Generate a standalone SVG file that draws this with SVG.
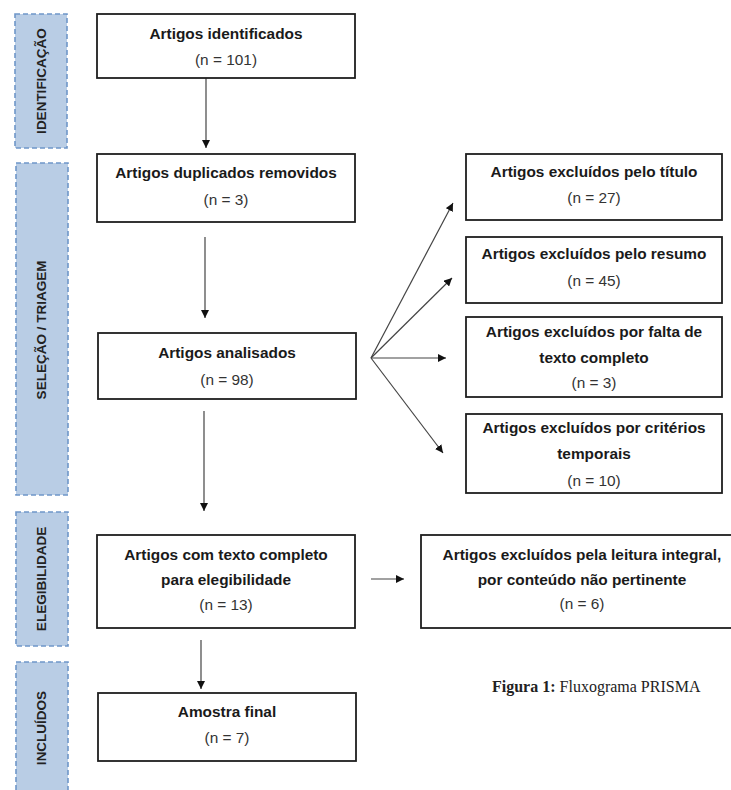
<svg xmlns="http://www.w3.org/2000/svg" width="731" height="790" viewBox="0 0 731 790">
<style>
.bar{fill:#b9cde5;stroke:#6f97c9;stroke-width:1.6;stroke-dasharray:5,3}
.bl{font-family:"Liberation Sans",Arial,sans-serif;font-weight:bold;font-size:13.5px;fill:#222;text-anchor:middle}
.box{fill:#fff;stroke:#1e1e1e;stroke-width:1.8}
.t{font-family:"Liberation Sans",Arial,sans-serif;font-weight:bold;font-size:15.4px;fill:#1a1a1a;text-anchor:middle}
.n{font-family:"Liberation Sans",Arial,sans-serif;font-size:15.4px;fill:#333;text-anchor:middle}
.ln{stroke:#444;stroke-width:1.2;fill:none;marker-end:url(#ah)}
.cap{font-family:"Liberation Serif","Times New Roman",serif;font-size:16px;fill:#222}
</style>
<defs>
<marker id="ah" viewBox="0 0 10 10" refX="10" refY="5" markerWidth="8" markerHeight="8" markerUnits="userSpaceOnUse" orient="auto">
<path d="M0,0 L10,5 L0,10 z" fill="#111"/>
</marker>
</defs>
<rect width="731" height="790" fill="#fff"/>

<g id="phase-identificacao">
<rect class="bar" x="15" y="14" width="52" height="134"/>
<text class="bl" transform="translate(46,81) rotate(-90)">IDENTIFICAÇÃO</text>
</g>
<g id="phase-selecao">
<rect class="bar" x="16" y="163" width="52" height="332"/>
<text class="bl" transform="translate(46,330) rotate(-90)">SELEÇÃO / TRIAGEM</text>
</g>
<g id="phase-elegibilidade">
<rect class="bar" x="16" y="512" width="52" height="134"/>
<text class="bl" transform="translate(46,579) rotate(-90)">ELEGIBILIDADE</text>
</g>
<g id="phase-incluidos">
<rect class="bar" x="16" y="662" width="52" height="140"/>
<text class="bl" transform="translate(46,728) rotate(-90)">INCLUÍDOS</text>
</g>

<g id="connectors">
<line class="ln" x1="206" y1="78" x2="206" y2="148"/>
<line class="ln" x1="205" y1="237" x2="205" y2="318"/>
<line class="ln" x1="204" y1="411" x2="204" y2="511"/>
<line class="ln" x1="201" y1="640" x2="201" y2="689"/>
<line class="ln" x1="371" y1="579" x2="404" y2="579"/>
<line class="ln" x1="371" y1="358" x2="453" y2="203"/>
<line class="ln" x1="371" y1="358" x2="452" y2="278"/>
<line class="ln" x1="371" y1="358" x2="446" y2="358"/>
<line class="ln" x1="371" y1="358" x2="443" y2="453"/>
</g>

<g id="identificados">
<rect class="box" x="97" y="14" width="258" height="64"/>
<text class="t" x="226" y="39">Artigos identificados</text>
<text class="n" x="226" y="65">(n = 101)</text>
</g>
<g id="duplicados">
<rect class="box" x="97" y="154" width="258" height="68"/>
<text class="t" x="226" y="178">Artigos duplicados removidos</text>
<text class="n" x="226" y="205">(n = 3)</text>
</g>
<g id="analisados">
<rect class="box" x="98" y="333" width="258" height="66"/>
<text class="t" x="227" y="358">Artigos analisados</text>
<text class="n" x="227" y="385">(n = 98)</text>
</g>
<g id="texto-completo">
<rect class="box" x="97" y="535" width="258" height="93"/>
<text class="t" x="226" y="560">Artigos com texto completo</text>
<text class="t" x="226" y="585">para elegibilidade</text>
<text class="n" x="226" y="610">(n = 13)</text>
</g>
<g id="amostra-final">
<rect class="box" x="98" y="693" width="258" height="68"/>
<text class="t" x="227" y="717">Amostra final</text>
<text class="n" x="227" y="743">(n = 7)</text>
</g>
<g id="excl-titulo">
<rect class="box" x="466" y="154" width="256" height="66"/>
<text class="t" x="594" y="177">Artigos excluídos pelo título</text>
<text class="n" x="594" y="203">(n = 27)</text>
</g>
<g id="excl-resumo">
<rect class="box" x="466" y="237" width="256" height="66"/>
<text class="t" x="594" y="259">Artigos excluídos pelo resumo</text>
<text class="n" x="594" y="286">(n = 45)</text>
</g>
<g id="excl-falta">
<rect class="box" x="466" y="317" width="256" height="80"/>
<text class="t" x="594" y="337">Artigos excluídos por falta de</text>
<text class="t" x="594" y="363">texto completo</text>
<text class="n" x="594" y="388">(n = 3)</text>
</g>
<g id="excl-temporais">
<rect class="box" x="466" y="414" width="256" height="79"/>
<text class="t" x="594" y="433">Artigos excluídos por critérios</text>
<text class="t" x="594" y="459">temporais</text>
<text class="n" x="594" y="486">(n = 10)</text>
</g>
<g id="excl-leitura">
<rect class="box" x="421" y="535" width="320" height="93"/>
<text class="t" x="582" y="560">Artigos excluídos pela leitura integral,</text>
<text class="t" x="582" y="585">por conteúdo não pertinente</text>
<text class="n" x="582" y="609">(n = 6)</text>
</g>

<text class="cap" x="492" y="692"><tspan font-weight="bold">Figura 1:</tspan> Fluxograma PRISMA</text>
</svg>
